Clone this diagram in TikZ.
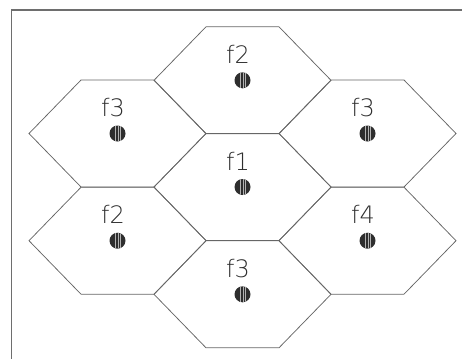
\documentclass[tikz,border=0pt]{standalone}
\usepackage{fontspec}
\newfontfamily\cellfont{DejaVu Sans ExtraLight}
\definecolor{edge}{HTML}{666666}
\definecolor{ink}{HTML}{2E2E2E}
\definecolor{frame}{HTML}{6E6E6E}
\tikzset{
  cell/.style={draw=edge, line width=0.75pt, line join=miter},
  tag/.style={font=\cellfont\fontsize{24}{24}\selectfont, text=ink, inner sep=0pt, anchor=base},
  antenna/.style={circle, fill=ink, minimum size=16pt, inner sep=0pt},
  border/.style={draw=frame, line width=1.4pt}
}
\begin{document}
\begin{tikzpicture}[x=1pt, y=-1pt]
  \useasboundingbox (0,0) rectangle (462,359);
  % frame: top and left sides only
  \coordinate (ftr) at (462,10);
  \coordinate (ftl) at (11.5,10);
  \coordinate (fbl) at (11.5,359);
  \draw[border] (ftr) -- (ftl) -- (fbl);
  % hexagonal cells: half width 88.5, half top edge 36.5, half height 53.5
  \foreach \cx/\cy/\lab/\nm in {242.5/80.3/f2/n, 117.5/133.5/f3/nw, 367.5/133.5/f3/ne,
                                242.5/187/f1/c, 117.5/240.7/f2/sw, 367.5/240.7/f4/se,
                                242.5/294.3/f3/s}{
    \draw[cell] (\cx-88.5,\cy) -- (\cx-36.5,\cy-53.5) -- (\cx+36.5,\cy-53.5)
      -- (\cx+88.5,\cy) -- (\cx+36.5,\cy+53.5) -- (\cx-36.5,\cy+53.5) -- cycle;
    % base station: dark disc with faint vertical hatching
    \node[antenna] (dot-\nm) at (\cx,\cy) {};
    \begin{scope}
      \clip (\cx,\cy) circle (8pt);
      \foreach \dx in {-2.5,0.5,3}
        \draw[gray!60, line width=0.4pt] (\cx+\dx,\cy-9) -- (\cx+\dx,\cy+9);
    \end{scope}
    \node[tag] (lab-\nm) at (\cx-4.5,\cy-17) {\lab};
  }
\end{tikzpicture}
\end{document}
